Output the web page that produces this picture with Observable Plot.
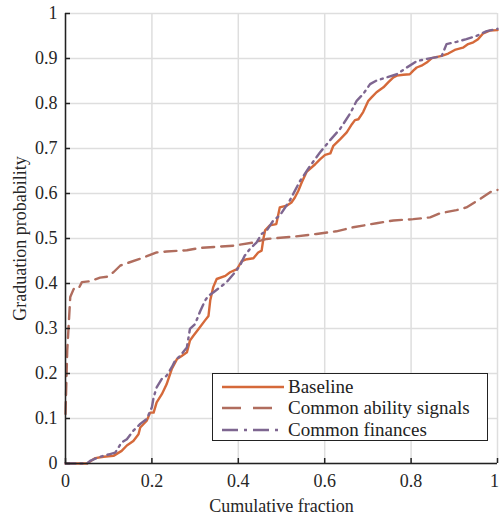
<!DOCTYPE html>
<html>
<head>
<meta charset="utf-8">
<script src="https://cdn.jsdelivr.net/npm/d3@7"></script>
<script src="https://cdn.jsdelivr.net/npm/@observablehq/plot@0.6"></script>
<style>
  body { margin: 0; background: #fff; }
  #wrap { position: relative; width: 500px; height: 519px; font-family: "Liberation Serif", serif; }
  #wrap svg text { font-family: "Liberation Serif", serif; }
  #legend { position: absolute; left: 212px; top: 373px; width: 276px; height: 68px; border: 1.5px solid #222; background: #fff; box-sizing: border-box; }
  .row { position: absolute; left: 0; height: 21px; display: flex; align-items: center; font-size: 19px; color: #222; font-family: "Liberation Serif", serif; }
  .row svg { margin-left: 9px; margin-right: 4px; }
</style>
</head>
<body>
<div id="wrap"></div>
<script>
const xTicks = [0, 0.2, 0.4, 0.6, 0.8, 1];
const yTicks = [0, 0.1, 0.2, 0.3, 0.4, 0.5, 0.6, 0.7, 0.8, 0.9, 1];
const xTickLabels = ["0", "0.2", "0.4", "0.6", "0.8", "1"];
const yTickLabels = ["0", "0.1", "0.2", "0.3", "0.4", "0.5", "0.6", "0.7", "0.8", "0.9", "1"];

const seriesNames = ["Baseline", "Common ability signals", "Common finances"];
const seriesColors = ["#d5693a", "#b06d5e", "#7e6690"];
const seriesDash = [null, "12,7", "10,5,2,5"];

const baselineX = [0, 0.05, 0.069, 0.088, 0.111, 0.13, 0.142, 0.157, 0.169, 0.173, 0.188, 0.196, 0.204, 0.211, 0.223, 0.234, 0.246, 0.258, 0.269, 0.281, 0.288, 0.296, 0.308, 0.323, 0.331, 0.335, 0.342, 0.35, 0.37, 0.381, 0.397, 0.408, 0.42, 0.435, 0.446, 0.454, 0.458, 0.462, 0.473, 0.488, 0.496, 0.512, 0.523, 0.531, 0.539, 0.547, 0.558, 0.578, 0.589, 0.601, 0.613, 0.62, 0.636, 0.651, 0.663, 0.67, 0.678, 0.689, 0.701, 0.709, 0.72, 0.736, 0.747, 0.759, 0.767, 0.782, 0.797, 0.805, 0.813, 0.824, 0.836, 0.848, 0.871, 0.886, 0.901, 0.92, 0.932, 0.944, 0.955, 0.967, 0.982, 1.0];
const baselineY = [0, 0, 0.012, 0.015, 0.017, 0.028, 0.04, 0.05, 0.065, 0.08, 0.095, 0.113, 0.113, 0.136, 0.154, 0.176, 0.21, 0.232, 0.239, 0.247, 0.273, 0.284, 0.299, 0.318, 0.328, 0.362, 0.392, 0.41, 0.417, 0.425, 0.432, 0.45, 0.454, 0.456, 0.469, 0.473, 0.499, 0.518, 0.529, 0.532, 0.569, 0.573, 0.58, 0.591, 0.606, 0.625, 0.648, 0.665, 0.676, 0.686, 0.689, 0.706, 0.721, 0.736, 0.754, 0.763, 0.765, 0.781, 0.806, 0.814, 0.825, 0.836, 0.847, 0.858, 0.862, 0.864, 0.865, 0.873, 0.88, 0.884, 0.891, 0.901, 0.906, 0.911, 0.919, 0.924, 0.932, 0.936, 0.943, 0.956, 0.962, 0.963];

const abilityX = [0, 0.004, 0.011, 0.019, 0.03, 0.038, 0.057, 0.08, 0.096, 0.111, 0.127, 0.142, 0.173, 0.211, 0.234, 0.281, 0.312, 0.358, 0.389, 0.435, 0.466, 0.527, 0.581, 0.627, 0.666, 0.72, 0.759, 0.805, 0.844, 0.867, 0.905, 0.928, 0.96, 0.983, 1.0];
const abilityY = [0.11, 0.25, 0.37, 0.388, 0.388, 0.403, 0.405, 0.413, 0.415, 0.425, 0.44, 0.445, 0.455, 0.469, 0.471, 0.474, 0.479, 0.482, 0.484, 0.491, 0.499, 0.504, 0.51, 0.516, 0.525, 0.534, 0.54, 0.543, 0.547, 0.556, 0.563, 0.569, 0.588, 0.603, 0.608];

const financesX = [0, 0.05, 0.057, 0.08, 0.103, 0.115, 0.13, 0.142, 0.157, 0.173, 0.188, 0.2, 0.204, 0.211, 0.223, 0.234, 0.246, 0.254, 0.265, 0.281, 0.288, 0.3, 0.312, 0.323, 0.331, 0.342, 0.358, 0.373, 0.389, 0.404, 0.415, 0.427, 0.442, 0.454, 0.466, 0.481, 0.496, 0.519, 0.543, 0.566, 0.589, 0.612, 0.636, 0.659, 0.674, 0.689, 0.705, 0.72, 0.743, 0.767, 0.79, 0.813, 0.836, 0.859, 0.871, 0.882, 0.905, 0.928, 0.951, 0.975, 1.0];
const financesY = [0, 0, 0.006, 0.015, 0.021, 0.024, 0.047, 0.054, 0.073, 0.088, 0.099, 0.125, 0.147, 0.169, 0.188, 0.195, 0.214, 0.229, 0.239, 0.258, 0.299, 0.31, 0.339, 0.362, 0.373, 0.38, 0.392, 0.403, 0.421, 0.44, 0.462, 0.477, 0.491, 0.51, 0.518, 0.54, 0.551, 0.584, 0.628, 0.661, 0.691, 0.718, 0.744, 0.778, 0.806, 0.821, 0.843, 0.851, 0.858, 0.865, 0.88, 0.894, 0.899, 0.903, 0.906, 0.932, 0.937, 0.943, 0.95, 0.961, 0.966];

const toPts = (xs, ys) => xs.map((x, i) => ({x, y: ys[i]}));
const series = [toPts(baselineX, baselineY), toPts(abilityX, abilityY), toPts(financesX, financesY)];

const font = "Liberation Serif";
const lineMarks = series.map((pts, i) => Plot.line(pts, {
  x: "x", y: "y", stroke: seriesColors[i], strokeWidth: 2.4,
  strokeDasharray: seriesDash[i] || undefined, strokeLinejoin: "round"
}));

const chart = Plot.plot({
  width: 500, height: 519,
  marginLeft: 65, marginRight: 3, marginTop: 13, marginBottom: 56,
  style: {fontFamily: font, fontSize: "18px", color: "#262626", background: "#fff", overflow: "visible"},
  x: {domain: [0, 1]},
  y: {domain: [0, 1]},
  marks: [
    Plot.gridX(xTicks, {stroke: "#dedede", strokeOpacity: 1, strokeWidth: 1.5}),
    Plot.gridY(yTicks, {stroke: "#dedede", strokeOpacity: 1, strokeWidth: 1.5}),
    ...lineMarks,
    Plot.ruleX([0], {stroke: "#222", strokeWidth: 1.5}),
    Plot.ruleY([0], {stroke: "#222", strokeWidth: 1.5}),
    Plot.axisX(xTicks, {tickSize: 5, dy: -5, tickFormat: () => "", label: null, stroke: "#222", strokeWidth: 1.5}),
    Plot.axisY(yTicks, {tickSize: 5, dx: 5, tickFormat: () => "", label: null, stroke: "#222", strokeWidth: 1.5}),
    Plot.axisX(xTicks.slice(0, -1), {tickSize: 0, tickPadding: 11, tickFormat: (d, i) => xTickLabels[i], fontSize: 18, fontFamily: font,
      label: "Cumulative fraction", labelAnchor: "center", labelOffset: 48, labelArrow: "none"}),
    Plot.axisX(xTicks.slice(-1), {tickSize: 0, tickPadding: 11, dx: -3, tickFormat: () => xTickLabels[xTickLabels.length - 1], fontSize: 18, fontFamily: font, label: null}),
    Plot.axisY(yTicks, {tickSize: 0, tickPadding: 8, tickFormat: (d, i) => yTickLabels[i], fontSize: 18, fontFamily: font,
      label: "Graduation probability", labelAnchor: "center", labelOffset: 52, labelArrow: "none"})
  ]
});

const wrap = document.getElementById("wrap");
wrap.appendChild(chart);

const legend = document.createElement("div");
legend.id = "legend";
seriesNames.forEach((name, i) => {
  const row = document.createElement("div");
  row.className = "row";
  row.style.top = (2 + i * 21.5) + "px";
  const sw = document.createElementNS("http://www.w3.org/2000/svg", "svg");
  sw.setAttribute("width", 62); sw.setAttribute("height", 10);
  const ln = document.createElementNS("http://www.w3.org/2000/svg", "line");
  ln.setAttribute("x1", 0); ln.setAttribute("x2", 62); ln.setAttribute("y1", 5); ln.setAttribute("y2", 5);
  ln.setAttribute("stroke", seriesColors[i]); ln.setAttribute("stroke-width", 2.4);
  if (seriesDash[i]) ln.setAttribute("stroke-dasharray", i === 1 ? "19,12" : "16,6,3,6");
  sw.appendChild(ln);
  row.appendChild(sw);
  const t = document.createElement("span");
  t.textContent = name;
  row.appendChild(t);
  legend.appendChild(row);
});
wrap.appendChild(legend);
</script>
</body>
</html>
